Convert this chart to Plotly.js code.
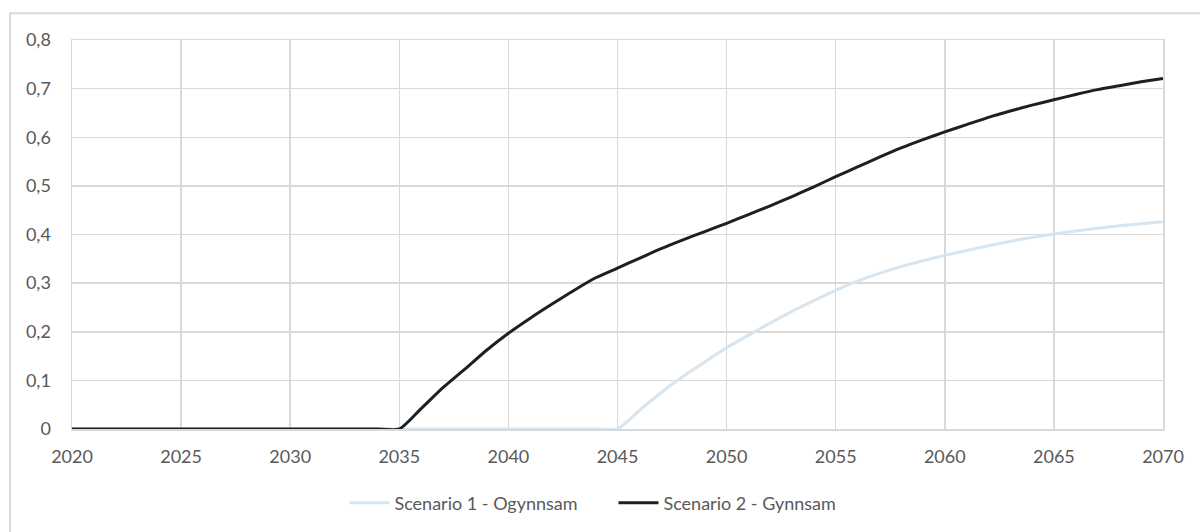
<!DOCTYPE html>
<html>
<head>
<meta charset="utf-8">
<script src="https://cdn.plot.ly/plotly-3.0.1.min.js"></script>
<style>
html,body{margin:0;padding:0;background:#fff;}
#chart{width:1200px;height:532px;}
</style>
</head>
<body>
<div id="chart"></div>
<script>
const years = [2020,2021,2022,2023,2024,2025,2026,2027,2028,2029,2030,2031,2032,2033,2034,2035,2036,2037,2038,2039,2040,2041,2042,2043,2044,2045,2046,2047,2048,2049,2050,2051,2052,2053,2054,2055,2056,2057,2058,2059,2060,2061,2062,2063,2064,2065,2066,2067,2068,2069,2070];
const scenario1 = [0,0,0,0,0,0,0,0,0,0,0,0,0,0,0,0,0,0,0,0,0,0,0,0,0,0,0.038,0.075,0.108,0.138,0.167,0.193,0.218,0.242,0.264,0.285,0.304,0.320,0.334,0.346,0.357,0.367,0.377,0.386,0.394,0.401,0.407,0.413,0.418,0.422,0.426];
const scenario2 = [0,0,0,0,0,0,0,0,0,0,0,0,0,0,0,0,0.042,0.085,0.123,0.162,0.197,0.228,0.257,0.285,0.311,0.331,0.351,0.371,0.389,0.406,0.423,0.441,0.459,0.478,0.498,0.519,0.539,0.559,0.578,0.595,0.611,0.626,0.641,0.654,0.666,0.677,0.688,0.698,0.706,0.714,0.721];
const seriesNames = ["Scenario 1 - Ogynnsam", "Scenario 2 - Gynnsam"];
const xTickVals = [2020,2025,2030,2035,2040,2045,2050,2055,2060,2065,2070];
const xTickText = ["2020","2025","2030","2035","2040","2045","2050","2055","2060","2065","2070"];
const yTickVals = [0,0.1,0.2,0.3,0.4,0.5,0.6,0.7,0.8];
const yTickText = ["0","0,1","0,2","0,3","0,4","0,5","0,6","0,7","0,8"];

const traces = [
  {x: years, y: scenario1, name: seriesNames[0], type: 'scatter', mode: 'lines',
   line: {color: '#d6e5f0', width: 3, shape: 'spline', smoothing: 0.6}},
  {x: years, y: scenario2, name: seriesNames[1], type: 'scatter', mode: 'lines',
   line: {color: '#1b2026', width: 3, shape: 'spline', smoothing: 0.6}}
];

const font = {family: 'Lato, "Open Sans", sans-serif', size: 18, color: '#595959'};

const layout = {
  width: 1200, height: 532,
  margin: {l: 72, r: 37, t: 40, b: 102},
  paper_bgcolor: '#ffffff', plot_bgcolor: '#ffffff',
  font: font,
  showlegend: true,
  legend: {orientation: 'h', x: 0.4963, xanchor: 'center', y: -0.187, yanchor: 'middle',
           font: {family: font.family, size: 18, color: '#595959'}, itemwidth: 40, tracegroupgap: 0,
           entrywidth: 214, entrywidthmode: 'pixels'},
  xaxis: {range: [2020, 2070], tickmode: 'array', tickvals: xTickVals, ticktext: xTickText,
          showgrid: true, gridcolor: '#d9d9d9', gridwidth: 1.5, zeroline: false,
          showline: true, mirror: true, linecolor: '#d9d9d9', linewidth: 1.5,
          ticks: 'outside', ticklen: 11, tickcolor: 'rgba(0,0,0,0)', fixedrange: true},
  yaxis: {range: [0, 0.8], tickmode: 'array', tickvals: yTickVals, ticktext: yTickText,
          showgrid: true, gridcolor: '#d9d9d9', gridwidth: 1.5, zeroline: false,
          showline: true, mirror: true, linecolor: '#d9d9d9', linewidth: 1.5,
          ticks: 'outside', ticklen: 16, tickcolor: 'rgba(0,0,0,0)', fixedrange: true},
  shapes: [
    {type: 'rect', xref: 'paper', yref: 'paper', x0: -0.0568, x1: 1.06, y0: -0.3, y1: 1.069,
     line: {color: '#d9d9d9', width: 2}, fillcolor: 'rgba(0,0,0,0)', layer: 'below'}
  ]
};

Plotly.newPlot('chart', traces, layout, {displayModeBar: false, staticPlot: true});
</script>
</body>
</html>
